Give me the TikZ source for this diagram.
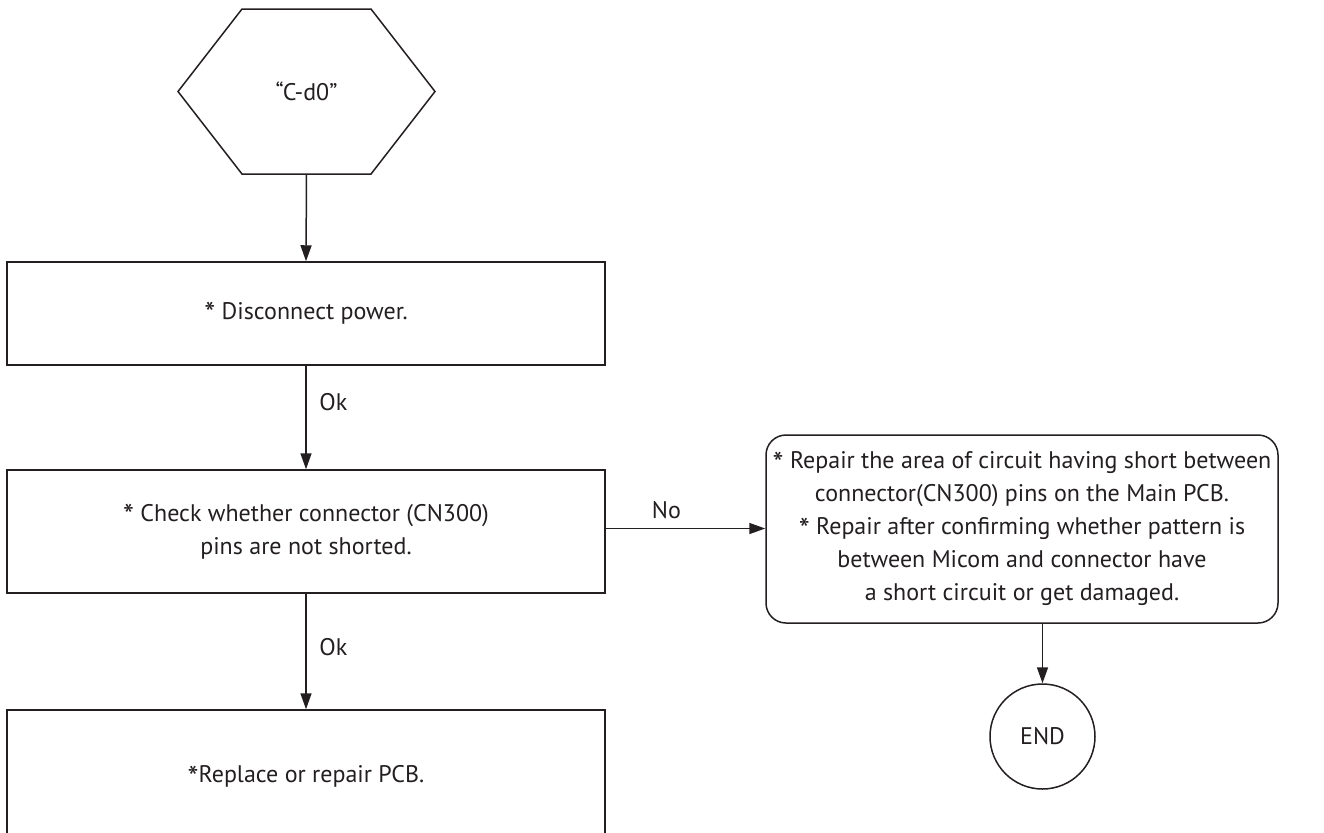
\documentclass[tikz,border=0pt]{standalone}
\usepackage{fontspec}
\setmainfont{PT Sans}
\usepackage{xcolor}
\usetikzlibrary{arrows.meta,positioning,calc,shapes.geometric}
\definecolor{ink}{HTML}{231F20}
\newcommand\stmark{\raisebox{-0.45ex}{\scalebox{1.3}{*}}}

\begin{document}
\begin{tikzpicture}[
    x=0.5pt, y=-0.5pt,
    >={Triangle[length=8pt,width=5.5pt]},
    line width=0.75pt, draw=ink, text=ink,
    every node/.style={font=\fontsize{12}{16.5}\selectfont},
    stepbox/.style={draw=ink, minimum width=299pt, align=center, inner sep=0pt},
    fixbox/.style={draw=ink, rounded corners=10pt, minimum width=256pt, minimum height=94pt, align=center, inner sep=0pt},
    endcirc/.style={draw=ink, circle, minimum size=52.5pt, inner sep=0pt},
    flow/.style={->, draw=ink, line width=0.75pt},
    lab/.style={font=\fontsize{12}{16.5}\selectfont, text=ink}
]
\useasboundingbox (0,0) rectangle (1324,832);
\clip (0,0) rectangle (1324,832);

\draw[ink] (178,91.5) -- (242,9) -- (371,9) -- (435,91.5) -- (371,174) -- (242,174) -- cycle;
\node (start) at (306.5,91.5) {“C-d0”};
\coordinate (startb) at (306.5,174);

\node[stepbox, minimum height=51.5pt] (disc) at (306,313.5) {\stmark{} Disconnect power.};
\node[stepbox, minimum height=61.5pt] (check) at (306,531.5) {\stmark{} Check whether connector (CN300)\\pins are not shorted.};
\node[stepbox, minimum height=67pt] (repl) at (306,777) {\stmark Replace or repair PCB.};

\node[fixbox] (fix) at (1022,529) {%
    \stmark{} Repair the area of circuit having short between\\
    connector(CN300) pins on the Main PCB.\\
    \stmark{} Repair after confirming whether pattern is\\
    between Micom and connector have\\
    a short circuit or get damaged.};
\node[endcirc] (end) at (1042.5,736.5) {END};

\draw[flow] (startb) -- (disc.north);
\draw[flow] (disc.south) -- node[lab, pos=0.35, right=3pt] {Ok} (check.north);
\draw[flow] (check.south) -- node[lab, pos=0.46, right=3pt] {Ok} (repl.north);
\draw[flow] ($(check.east)+(0,-3)$) -- node[lab, pos=0.38, above=1pt] {No} ($(check.east -| fix.west)+(0,-3)$);
\draw[flow] (fix.south -| end.north) -- (end.north);
\end{tikzpicture}
\end{document}
